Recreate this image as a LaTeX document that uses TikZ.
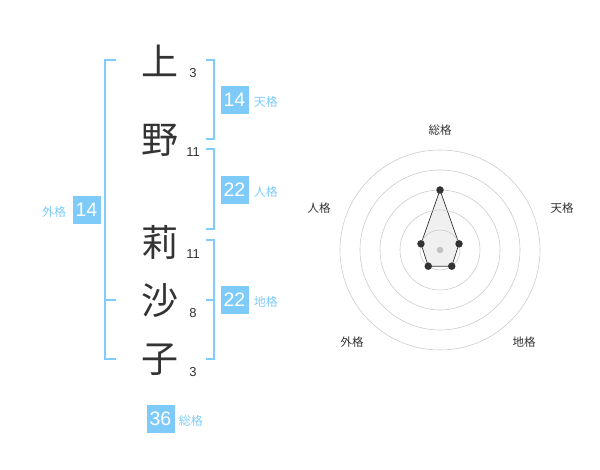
\documentclass[tikz,border=0pt]{standalone}
\usepackage{fontspec}
\setmainfont{Liberation Sans}
\newfontfamily\cjk{Noto Sans CJK JP}
\usepackage{tikz}
\usetikzlibrary{positioning}
\definecolor{kakublue}{RGB}{128,204,250}
\definecolor{boxblue}{RGB}{126,203,250}
\definecolor{charcol}{RGB}{51,51,51}
\definecolor{ringgray}{RGB}{204,204,204}
\definecolor{polyfill}{RGB}{225,225,225}
\definecolor{gray76}{RGB}{194,194,194}
\newcommand{\nameChars}[1]{
    \foreach \i/\c/\y/\n in {#1}
    {
        \node[kanji] (CH\i) at (160, \y) {\c};
        \node[strokenum] (ST\i) at (193, \y+12) {\n};
    }
}
\newcommand{\kakuBracket}[4]{
    %% #1 spine x, #2 tick end x, #3 top y, #4 bottom y
    \draw[bracket] (#2,#3) -- (#1,#3) -- (#1,#4) -- (#2,#4);
}
\newcommand{\radarVertices}[1]{
    \foreach \i/\a/\r in {#1}
    {
        \coordinate (V\i) at ([shift={(\a:\r)}]CTR);
    }
}

\begin{document}
\begin{tikzpicture}[x=1pt,y=-1pt]
    \tikzstyle{kanji}=[text=charcol,inner sep=0pt,%
    font=\cjk\fontsize{37}{37}\selectfont] %
    \tikzstyle{strokenum}=[text=charcol,inner sep=0pt,%
    font=\fontsize{13}{13}\selectfont] %
    \tikzstyle{kakubox}=[rectangle,fill=boxblue,text=white,inner sep=0pt,%
    minimum size=28pt,font=\fontsize{19.5}{19.5}\selectfont] %
    \tikzstyle{kakulabel}=[text=kakublue,inner sep=0pt,%
    font=\cjk\fontsize{12}{12}\selectfont] %
    \tikzstyle{bracket}=[draw=kakublue,line width=1.6pt] %
    \tikzstyle{ring}=[draw=ringgray,line width=0.6pt] %
    \tikzstyle{vertex}=[circle,fill=charcol,inner sep=0pt,minimum size=7.5pt] %
    \tikzstyle{centerdot}=[circle,fill=gray76,inner sep=0pt,minimum size=6.5pt] %
    \tikzstyle{axislabel}=[text=charcol,inner sep=0pt,%
    font=\cjk\fontsize{11.5}{11.5}\selectfont] %

    \useasboundingbox (0,0) rectangle (600,470);

    %% name
    \nameChars{1/上/61/3, 2/野/140/11, 3/莉/242/11, 4/沙/301/8, 5/子/360/3};

    %% brackets
    \kakuBracket{214}{206}{60}{139};
    \kakuBracket{214}{206}{149}{229};
    \kakuBracket{214}{206}{240}{359};
    \draw[bracket] (206,300) -- (214,300);
    \kakuBracket{105}{116}{60}{359};
    \draw[bracket] (116,300) -- (105,300);

    %% scores
    \node[kakubox] (TEN) at (234.5, 100) {14};
    \node[kakulabel, base right=5pt of TEN] (TENL) {天格};
    \node[kakubox] (JIN) at (234.5, 190) {22};
    \node[kakulabel, base right=5pt of JIN] (JINL) {人格};
    \node[kakubox] (CHI) at (234.5, 300) {22};
    \node[kakulabel, base right=5pt of CHI] (CHIL) {地格};
    \node[kakubox] (GAI) at (86.5, 210) {14};
    \node[kakulabel, base left=6pt of GAI] (GAIL) {外格};
    \node[kakubox] (SOU) at (160.5, 419) {36};
    \node[kakulabel, base right=4pt of SOU] (SOUL) {総格};

    %% radar
    \coordinate (CTR) at (440, 250);
    \node[axislabel] (AX1) at (440, 130) {総格};
    \node[axislabel] (AX2) at (562, 208) {天格};
    \node[axislabel] (AX3) at (524, 342) {地格};
    \node[axislabel] (AX4) at (352, 342) {外格};
    \node[axislabel] (AX5) at (319, 208) {人格};
    \radarVertices{1/-90/60, 2/-18/20, 3/54/20, 4/126/20, 5/-162/20};
    \filldraw[fill=polyfill,fill opacity=0.5,draw=charcol,line width=0.7pt]
        (V1) -- (V2) -- (V3) -- (V4) -- (V5) -- cycle;
    \foreach \r in {20,40,...,100}
        \draw[ring] (CTR) circle[radius=\r];
    \node[centerdot] (CDOT) at (CTR) {};
    \foreach \i in {1,...,5}
        \node[vertex] (D\i) at (V\i) {};
\end{tikzpicture}
\end{document}
